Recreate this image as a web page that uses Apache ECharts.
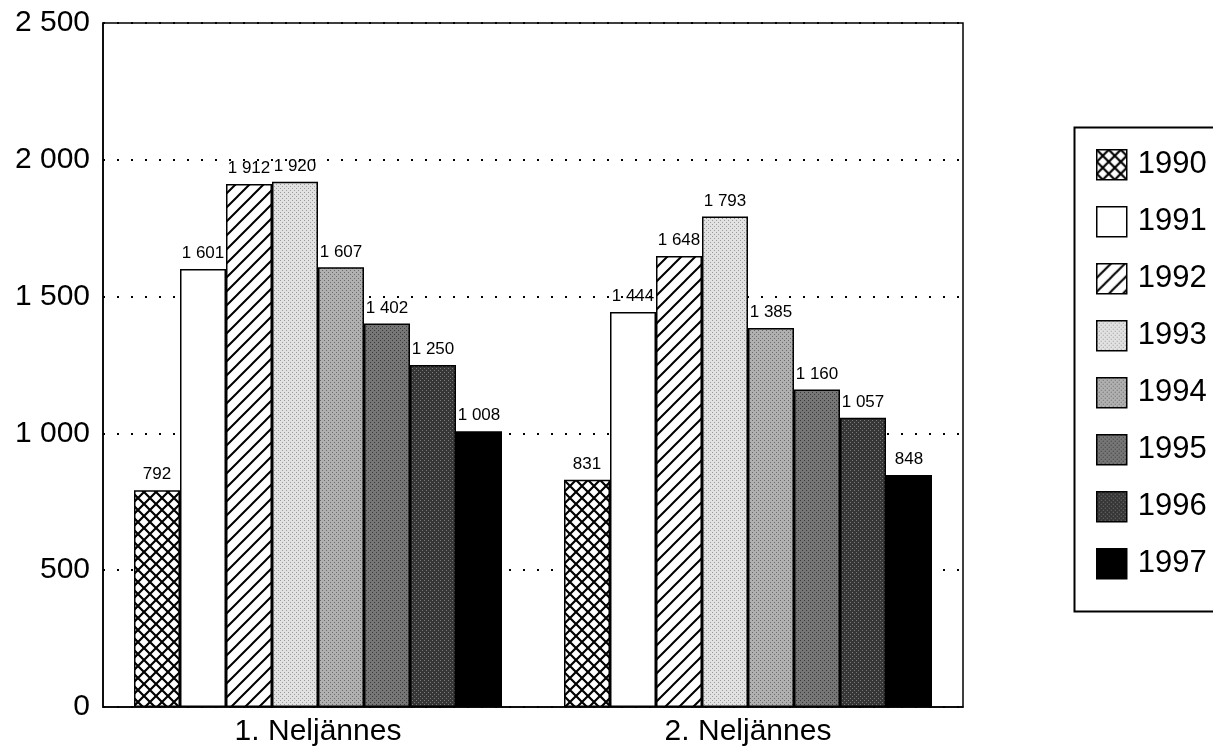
<!DOCTYPE html>
<html lang="fi">
<head>
  <meta charset="UTF-8">
  <title>Neljännekset 1990-1997</title>
  <script src="https://cdn.jsdelivr.net/npm/echarts@6/dist/echarts.min.js"></script>
  <style>
    html, body {
      margin: 0;
      padding: 0;
      background: #fff;
    }

    #chart-main {
      width: 1213px;
      height: 749px;
    }
  </style>
</head>
<body>
<div id="chart-main"></div>

<script type="text/javascript">
  // data
  const categories = ['1. Neljännes', '2. Neljännes']
  const years = ['1990', '1991', '1992', '1993', '1994', '1995', '1996', '1997']
  const v1990 = [792, 831]
  const v1991 = [1601, 1444]
  const v1992 = [1912, 1648]
  const v1993 = [1920, 1793]
  const v1994 = [1607, 1385]
  const v1995 = [1402, 1160]
  const v1996 = [1250, 1057]
  const v1997 = [1008, 848]
  const yTicks = [0, 500, 1000, 1500, 2000, 2500]

  const seriesValues = [v1990, v1991, v1992, v1993, v1994, v1995, v1996, v1997]
  const FONT = 'Liberation Sans, Arial, sans-serif'

  function tile(size, draw) {
    const c = document.createElement('canvas')
    c.width = size
    c.height = size
    const ctx = c.getContext('2d')
    draw(ctx, size)
    return {image: c, repeat: 'repeat'}
  }

  // stippled grey: base colour with a regular dot grid
  function stipple(base, dot) {
    return tile(4, function (ctx, s) {
      ctx.fillStyle = base
      ctx.fillRect(0, 0, s, s)
      ctx.fillStyle = dot
      ctx.fillRect(0, 0, 1, 1)
      ctx.fillRect(2, 2, 1, 1)
    })
  }

  const fills = [
    // 1990 cross hatch
    tile(12, function (ctx, s) {
      ctx.fillStyle = '#fff'
      ctx.fillRect(0, 0, s, s)
      ctx.strokeStyle = '#000'
      ctx.lineWidth = 2.2
      ctx.beginPath()
      ctx.moveTo(0, 0); ctx.lineTo(s, s)
      ctx.moveTo(s, 0); ctx.lineTo(0, s)
      ctx.stroke()
    }),
    '#ffffff',
    // 1992 diagonal lines
    tile(14, function (ctx, s) {
      ctx.fillStyle = '#fff'
      ctx.fillRect(0, 0, s, s)
      ctx.strokeStyle = '#000'
      ctx.lineWidth = 2
      ctx.beginPath()
      ctx.moveTo(-2, s + 2); ctx.lineTo(s + 2, -2)
      ctx.moveTo(-2, 2); ctx.lineTo(2, -2)
      ctx.moveTo(s - 2, s + 2); ctx.lineTo(s + 2, s - 2)
      ctx.stroke()
    }),
    stipple('#e2e2e2', '#9a9a9a'),
    stipple('#b0b0b0', '#6a6a6a'),
    stipple('#767676', '#3a3a3a'),
    stipple('#363636', '#7a7a7a'),
    '#000000'
  ]

  const chart = echarts.init(document.getElementById('chart-main'))

  const fmt = function (v) {
    const s = String(v)
    return s.length > 3 ? s.slice(0, s.length - 3) + ' ' + s.slice(-3) : s
  }

  const series = years.map(function (y, i) {
    return {
      name: y,
      type: 'bar',
      data: seriesValues[i],
      barWidth: 46,
      barGap: '0%',
      itemStyle: {
        color: fills[i],
        borderColor: '#000',
        borderWidth: 1.5
      },
      label: {
        show: true,
        position: 'top',
        distance: 7,
        fontFamily: FONT,
        fontSize: 17,
        color: '#000',
        formatter: function (p) {
          return fmt(p.value)
        }
      }
    }
  })

  const option = {
    animation: false,
    backgroundColor: '#fff',
    grid: {
      left: 103,
      top: 23,
      right: 250,
      bottom: 42,
      show: true,
      borderColor: '#000',
      borderWidth: 1.5
    },
    legend: {
      orient: 'vertical',
      left: 1091,
      top: 144,
      icon: 'rect',
      itemWidth: 30,
      itemHeight: 30,
      itemGap: 25.5,
      selectedMode: false,
      data: years,
      itemStyle: {
        borderColor: '#000',
        borderWidth: 1.5
      },
      textStyle: {
        fontFamily: FONT,
        fontSize: 31,
        lineHeight: 30,
        color: '#000',
        padding: [0, 0, 0, 6]
      }
    },
    graphic: [{
      type: 'rect',
      left: 1072,
      top: 125,
      shape: {width: 200, height: 484},
      style: {fill: 'none', stroke: '#000', lineWidth: 2},
      silent: true
    }],
    xAxis: {
      type: 'category',
      data: categories,
      axisLine: {show: true, lineStyle: {color: '#000', width: 1.5}},
      axisTick: {show: false},
      axisLabel: {
        margin: 10,
        fontFamily: FONT,
        fontSize: 30,
        color: '#000'
      }
    },
    yAxis: {
      type: 'value',
      min: yTicks[0],
      max: yTicks[yTicks.length - 1],
      interval: 500,
      axisLine: {show: true, lineStyle: {color: '#000', width: 1.5}},
      axisTick: {show: false},
      axisLabel: {
        margin: 13,
        fontFamily: FONT,
        fontSize: 30,
        color: '#000',
        formatter: function (v) {
          return fmt(v)
        }
      },
      splitLine: {
        show: true,
        lineStyle: {color: '#000', width: 2, type: [2, 12]}
      }
    },
    series: series
  }

  chart.setOption(option)
</script>
</body>
</html>
